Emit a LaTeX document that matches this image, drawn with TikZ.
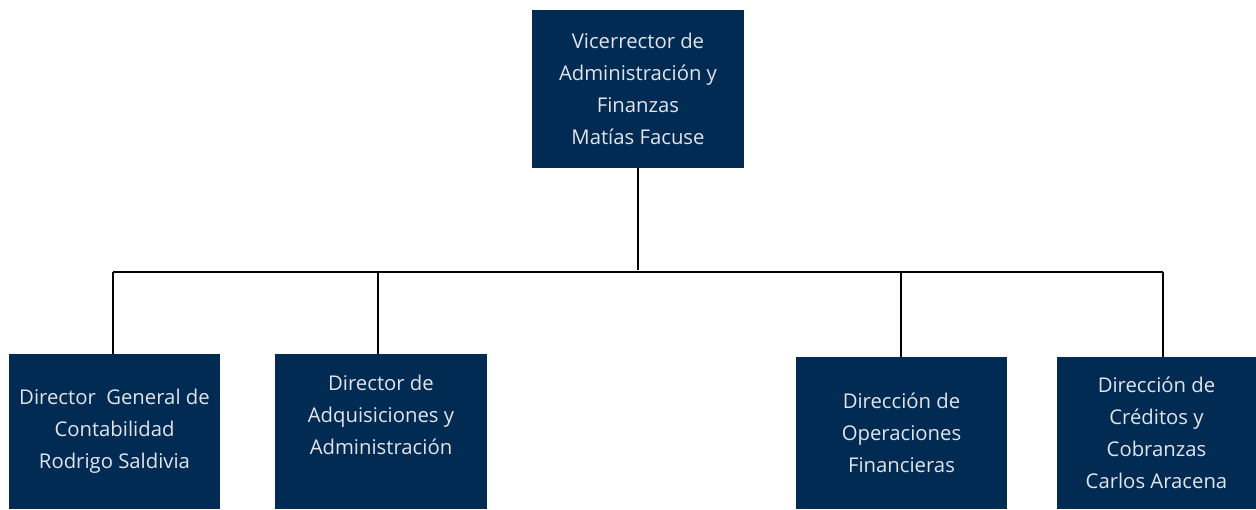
\documentclass[tikz,border=0pt]{standalone}
\usepackage{fontspec}
\setmainfont{Open Sans}
\usetikzlibrary{calc}

\definecolor{navy}{HTML}{022B53}

\tikzset{
	box/.style={fill=navy, text=white!88!navy, align=center, inner sep=0pt,
		font=\fontsize{20.3}{32}\selectfont},
	link/.style={line width=1.2pt},
}

\begin{document}
\begin{tikzpicture}[x=1pt, y=-1pt]

	\useasboundingbox (0,0) rectangle (1256,509);

	% top of the chart
	\node[box, minimum width=212pt, minimum height=158pt, text depth=0pt] (vice) at (638,89)
		{Vicerrector de\\Administración y\\Finanzas\\Matías Facuse};

	% the four directions below
	\node[box, minimum width=211pt, minimum height=155pt] (cont) at (114.5,431.5)
		{Director\ \ General de\\Contabilidad\\Rodrigo Saldivia};
	\node[box, minimum width=212pt, minimum height=155pt, text depth=34pt] (adq) at (381,431.5)
		{Director de\\Adquisiciones y\\Administración};
	\node[box, minimum width=211pt, minimum height=152pt] (oper) at (901.5,433)
		{Dirección de\\Operaciones\\Financieras};
	\node[box, minimum width=199pt, minimum height=152pt] (cred) at (1156.5,433)
		{Dirección de\\Créditos y\\Cobranzas\\Carlos Aracena};

	% bus line and drops
	\coordinate (bus) at (638,272);
	\coordinate (j1) at (113,272);
	\coordinate (j2) at (378,272);
	\coordinate (j3) at (901,272);
	\coordinate (j4) at (1163,272);

	\draw[link] (vice.south) -- ([yshift=2pt]bus);
	\draw[link] (j1) -- (j4);
	\foreach \j/\b in {j1/cont, j2/adq, j3/oper, j4/cred} {
		\draw[link] (\j) -- (\j |- \b.north);
	}

\end{tikzpicture}
\end{document}
